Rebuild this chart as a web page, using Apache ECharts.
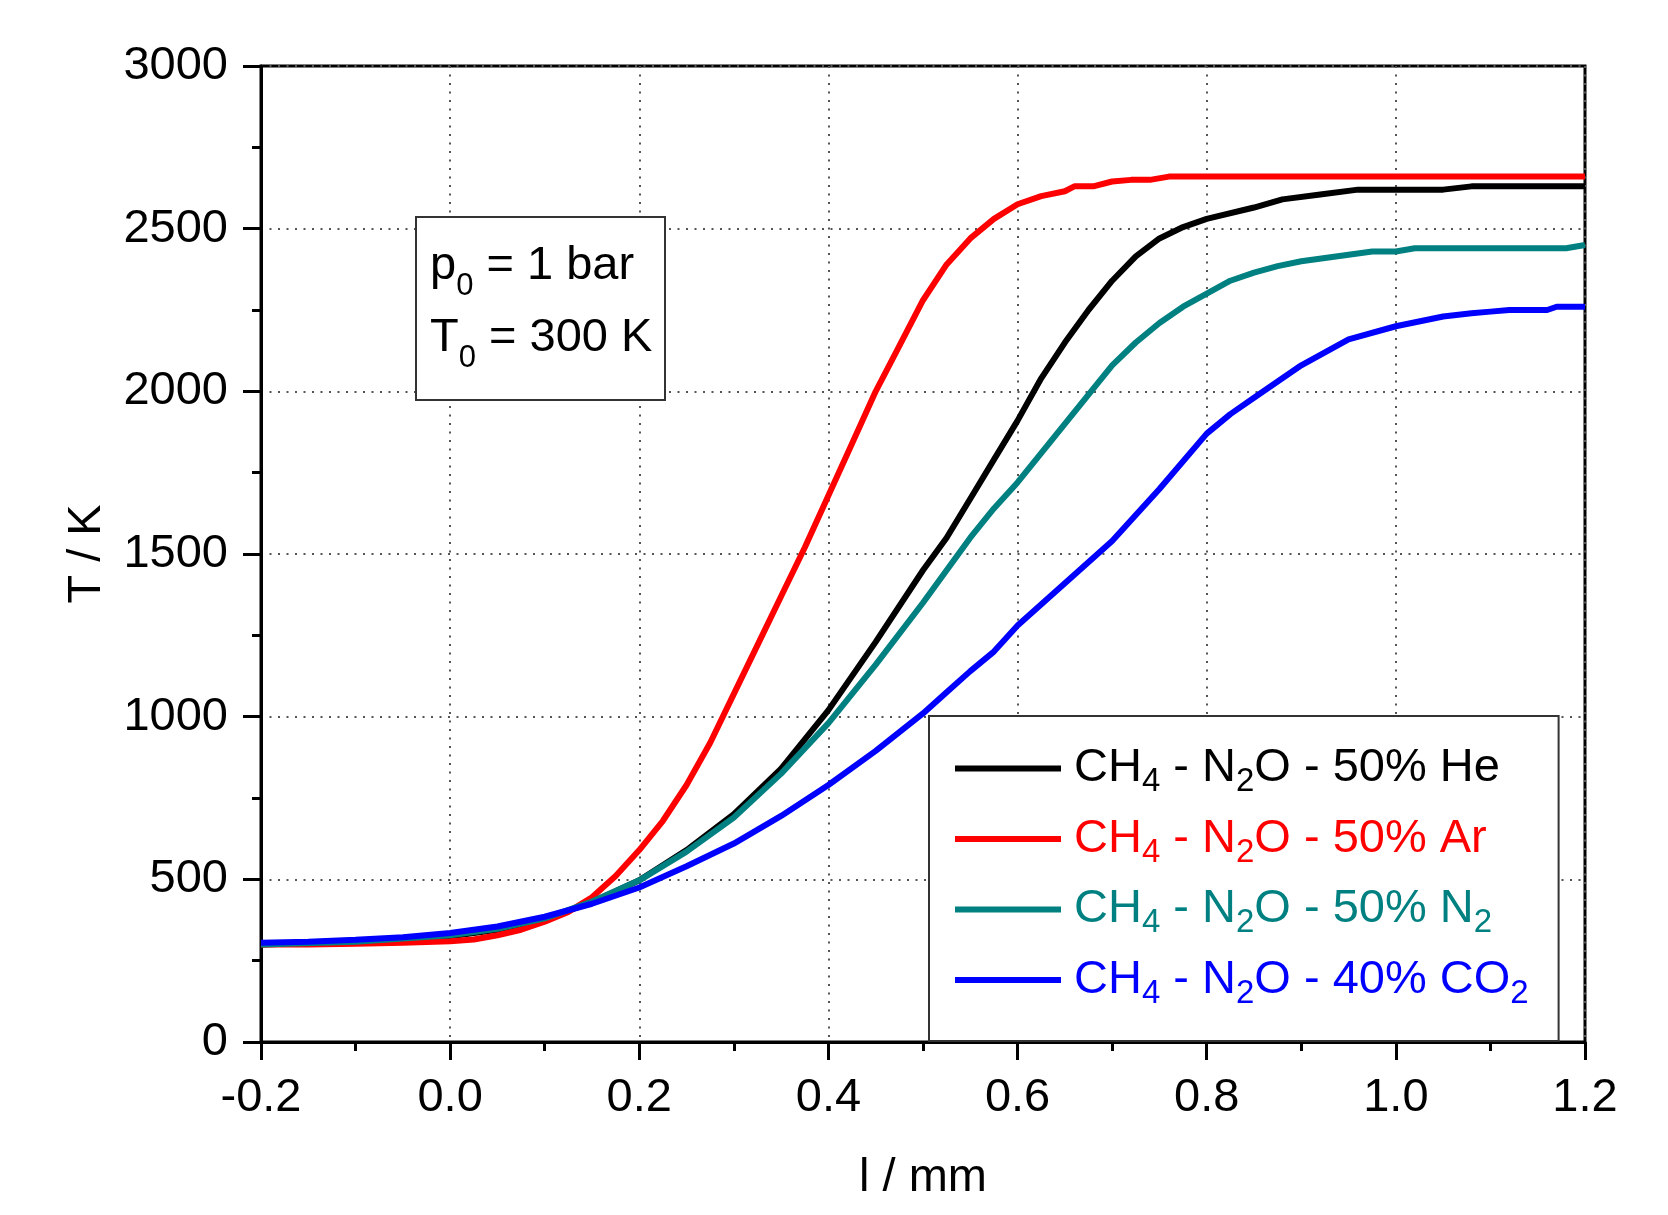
<!DOCTYPE html>
<html>
<head>
<meta charset="utf-8">
<title>T vs l</title>
<script src="https://cdn.jsdelivr.net/npm/echarts@6/dist/echarts.min.js"></script>
<style>
  html, body { margin: 0; padding: 0; background: #fff; }
  #chart { width: 1668px; height: 1215px; }
</style>
</head>
<body>
<div id="chart"></div>
<script>
// l / mm  ->  T / K
var heData = [
  [-0.2, 300], [-0.1, 308], [0, 325], [0.05, 345], [0.1, 378], [0.15, 430], [0.2, 497],
  [0.25, 590], [0.3, 700], [0.35, 840], [0.4, 1020], [0.45, 1230], [0.5, 1450], [0.525, 1550],
  [0.55, 1670], [0.575, 1790], [0.6, 1910], [0.625, 2040], [0.65, 2150], [0.675, 2250],
  [0.7, 2340], [0.725, 2415], [0.75, 2470], [0.775, 2505], [0.8, 2530], [0.85, 2565],
  [0.88, 2590], [0.92, 2605], [0.96, 2620], [1.05, 2620], [1.08, 2630], [1.2, 2630]
]
var arData = [
  [-0.2, 300], [-0.15, 300], [-0.1, 302], [-0.05, 305], [0, 310], [0.025, 315], [0.05, 328],
  [0.075, 345], [0.1, 370], [0.125, 400], [0.15, 445], [0.175, 510], [0.2, 590], [0.225, 680],
  [0.25, 790], [0.275, 920], [0.3, 1070], [0.325, 1220], [0.35, 1370], [0.375, 1520],
  [0.4, 1680], [0.425, 1840], [0.45, 2000], [0.475, 2140], [0.5, 2280], [0.525, 2390],
  [0.55, 2470], [0.575, 2530], [0.6, 2575], [0.625, 2600], [0.65, 2615], [0.66, 2630],
  [0.68, 2630], [0.7, 2645], [0.72, 2650], [0.74, 2650], [0.76, 2660], [1.2, 2660]
]
var n2Data = [
  [-0.2, 300], [-0.1, 308], [0, 328], [0.05, 348], [0.1, 380], [0.15, 432], [0.2, 497],
  [0.25, 585], [0.3, 690], [0.35, 825], [0.4, 980], [0.45, 1160], [0.5, 1350], [0.55, 1550],
  [0.575, 1640], [0.6, 1720], [0.625, 1810], [0.65, 1900], [0.675, 1990], [0.7, 2080],
  [0.725, 2150], [0.75, 2210], [0.775, 2260], [0.8, 2300], [0.825, 2340], [0.85, 2365],
  [0.875, 2385], [0.9, 2400], [0.925, 2410], [0.95, 2420], [0.975, 2430], [1.0, 2430],
  [1.02, 2440], [1.18, 2440], [1.2, 2450]
]
var co2Data = [
  [-0.2, 305], [-0.15, 308], [-0.1, 314], [-0.05, 322], [0, 335], [0.05, 355], [0.1, 385],
  [0.15, 425], [0.2, 475], [0.25, 540], [0.3, 610], [0.35, 695], [0.4, 790], [0.45, 895],
  [0.5, 1010], [0.525, 1075], [0.55, 1140], [0.575, 1200], [0.6, 1280], [0.65, 1410],
  [0.7, 1540], [0.75, 1700], [0.8, 1870], [0.825, 1930], [0.85, 1980], [0.875, 2030],
  [0.9, 2080], [0.95, 2160], [1.0, 2200], [1.05, 2230], [1.08, 2240], [1.1, 2245],
  [1.12, 2250], [1.16, 2250], [1.17, 2260], [1.2, 2260]
]

var seriesNames = ['CH4 - N2O - 50% He', 'CH4 - N2O - 50% Ar', 'CH4 - N2O - 50% N2', 'CH4 - N2O - 40% CO2']
var seriesColors = ['#000000', '#ff0000', '#008080', '#0000ff']
// legend text with subscripts, rich-text form
var legendRich = [
  '{m|CH}{s|4}{m| - N}{s|2}{m|O - 50% He}',
  '{m|CH}{s|4}{m| - N}{s|2}{m|O - 50% Ar}',
  '{m|CH}{s|4}{m| - N}{s|2}{m|O - 50% N}{s|2}',
  '{m|CH}{s|4}{m| - N}{s|2}{m|O - 40% CO}{s|2}'
]
var allData = [heData, arData, n2Data, co2Data]

var font = 'Liberation Sans'
var chart = echarts.init(document.getElementById('chart'))

var series = []
var legendData = []
for (var i = 0; i < seriesNames.length; i++) {
  series.push({
    name: seriesNames[i],
    type: 'line',
    data: allData[i],
    showSymbol: false,
    color: seriesColors[i],
    lineStyle: { width: 6, color: seriesColors[i] }
  })
  legendData.push({
    name: seriesNames[i],
    textStyle: {
      color: seriesColors[i],
      padding: [0, 0, 0, 8],
      rich: {
        m: { fontSize: 47, lineHeight: 60, color: seriesColors[i], fontFamily: font },
        s: { fontSize: 33, lineHeight: 21, verticalAlign: 'bottom', color: seriesColors[i], fontFamily: font }
      }
    }
  })
}

chart.setOption({
  backgroundColor: '#fff',
  animation: false,
  textStyle: { fontFamily: font, color: '#000' },
  title: {
    left: 416,
    top: 204,
    text: '{m|p}{s|0}{m| = 1 bar}\n{m|T}{s|0}{m| = 300 K}',
    padding: [26, 13, 26, 14],
    borderColor: '#333',
    borderWidth: 2,
    backgroundColor: '#fff',
    textStyle: {
      fontWeight: 'normal',
      rich: {
        m: { fontSize: 47, fontWeight: 'normal', lineHeight: 72, color: '#000', fontFamily: font },
        s: { fontSize: 31, fontWeight: 'normal', lineHeight: 29, verticalAlign: 'bottom', color: '#000', fontFamily: font }
      }
    }
  },
  legend: {
    orient: 'vertical',
    left: 929,
    top: 716,
    padding: [29, 30, 31, 26],
    itemGap: 17,
    itemWidth: 106,
    itemHeight: 6,
    icon: 'rect',
    borderColor: '#333',
    borderWidth: 2,
    backgroundColor: '#fff',
    selectedMode: false,
    formatter: function (name) {
      return legendRich[seriesNames.indexOf(name)]
    },
    data: legendData
  },
  grid: {
    left: 261,
    right: 83,
    top: 66,
    bottom: 173,
    show: true,
    borderColor: '#000',
    borderWidth: 3,
    backgroundColor: 'transparent'
  },
  xAxis: {
    type: 'value',
    min: -0.2,
    max: 1.2,
    interval: 0.2,
    name: 'l / mm',
    nameLocation: 'middle',
    nameGap: 113,
    nameTextStyle: { fontSize: 47, color: '#000', fontFamily: font },
    axisLine: { onZero: false, lineStyle: { color: '#000', width: 3 } },
    axisTick: { inside: false, length: 18, lineStyle: { color: '#000', width: 3 } },
    minorTick: { show: true, splitNumber: 2, length: 9, lineStyle: { color: '#000', width: 3 } },
    axisLabel: {
      fontSize: 47, color: '#000', margin: 33, fontFamily: font,
      formatter: function (v) { return v.toFixed(1) }
    },
    splitLine: { show: true, lineStyle: { color: '#555', width: 2, type: [2, 6.5] } }
  },
  yAxis: {
    type: 'value',
    min: 0,
    max: 3000,
    interval: 500,
    name: 'T / K',
    nameLocation: 'middle',
    nameGap: 150,
    nameTextStyle: { fontSize: 47, color: '#000', fontFamily: font },
    axisLine: { show: true, onZero: false, lineStyle: { color: '#000', width: 3 } },
    axisTick: { show: true, inside: false, length: 18, lineStyle: { color: '#000', width: 3 } },
    minorTick: { show: true, splitNumber: 2, length: 9, lineStyle: { color: '#000', width: 3 } },
    axisLabel: {
      fontSize: 47, color: '#000', margin: 33, fontFamily: font,
      formatter: function (v) { return String(v) }
    },
    splitLine: { show: true, lineStyle: { color: '#555', width: 2, type: [2, 6.5] } }
  },
  series: series
})
</script>
</body>
</html>
